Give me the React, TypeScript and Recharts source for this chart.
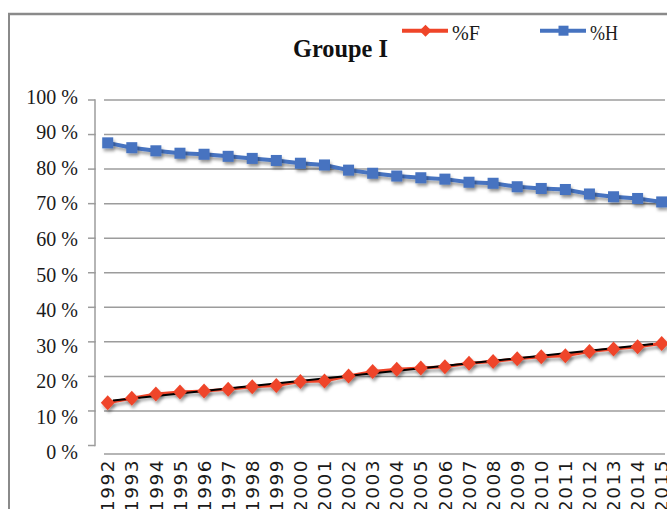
import React from 'react';
import { LineChart, Line, XAxis, YAxis, CartesianGrid, Legend, Customized } from 'recharts';

const years = [1992, 1993, 1994, 1995, 1996, 1997, 1998, 1999, 2000, 2001, 2002, 2003, 2004, 2005, 2006, 2007, 2008, 2009, 2010, 2011, 2012, 2013, 2014, 2015];
const pctF = [12.4, 13.7, 14.9, 15.5, 15.8, 16.3, 17.0, 17.4, 18.5, 18.7, 20.1, 21.4, 22.1, 22.4, 22.8, 23.8, 24.3, 25.1, 25.7, 26.0, 27.2, 27.9, 28.6, 29.5];
const pctH = [87.6, 86.2, 85.3, 84.6, 84.3, 83.7, 83.1, 82.5, 81.7, 81.2, 79.7, 78.8, 78.0, 77.5, 77.1, 76.2, 75.9, 74.9, 74.4, 74.1, 72.8, 72.0, 71.5, 70.5];
const trendYears = [1992.22, 2014.64];
const trendValues = [13.0, 29.4];
const yTicks = [0, 10, 20, 30, 40, 50, 60, 70, 80, 90, 100];
const gridValues = [10, 20, 30, 40, 50, 60, 70, 80, 90, 100];
const slotTicks = [0, 1, 2, 3, 4, 5, 6, 7, 8, 9, 10, 11, 12, 13, 14, 15, 16, 17, 18, 19, 20, 21, 22, 23, 24];

const data = years.map((y, i) => ({ year: y, F: pctF[i], H: pctH[i] }));
const trendData = trendYears.map((y, i) => ({ year: y, T: trendValues[i] }));

const RED = '#EF4529';
const BLUE = '#4673C0';
const GRID = '#9c9c9c';
const FRAME = '#8a8a8a';

const W = 667;
const H = 509;
const MARGIN = { top: 100, right: 2, bottom: 54, left: 44 };
const Y_MIN = -2.17;
const PLOT_H = H - MARGIN.top - MARGIN.bottom - 2;
const PX = PLOT_H / (100 - Y_MIN);

const YTick = (p: any) => {
  const { x, y, payload } = p;
  const v = Number(payload.value);
  const ly = y - 3 + (100 - v) * 0.1;
  return (
    <g>
      <line x1={x - 16} x2={x - 9} y1={y} y2={y} stroke={GRID} strokeWidth={1.5} />
      {v > 0 && <line x1={x - 9} x2={x - 9} y1={y - 0.75} y2={y + 10 * PX + 0.75} stroke={GRID} strokeWidth={1.5} />}
      <text x={x - 26} y={ly} dy="0.34em" textAnchor="end" fontFamily="'Liberation Serif', serif" fontSize={20} fill="#1a1a1a">
        {`${v} %`}
      </text>
    </g>
  );
};

const XTick = (p: any) => {
  const { x, y, payload } = p;
  const ty = y + 6;
  return (
    <text
      x={x}
      y={ty}
      dy="0.36em"
      textAnchor="end"
      transform={`rotate(-90, ${x}, ${ty})`}
      fontFamily="'DejaVu Sans', sans-serif"
      fontSize={18.5}
      letterSpacing={1.5}
      fill="#1a1a1a"
    >
      {payload.value}
    </text>
  );
};

const DiamondDot = (p: any) => {
  const { cx, cy, index } = p;
  if (cx == null || cy == null) return <g key={`dd${index}`} />;
  const r = 7.5;
  return (
    <path
      key={`dd${index}`}
      d={`M${cx},${cy - r}L${cx + r * 0.92},${cy}L${cx},${cy + r}L${cx - r * 0.92},${cy}Z`}
      fill={RED}
      filter="url(#sh)"
    />
  );
};

const SquareDot = (p: any) => {
  const { cx, cy, index } = p;
  if (cx == null || cy == null) return <g key={`sd${index}`} />;
  return <rect key={`sd${index}`} x={cx - 5.5} y={cy - 5.5} width={11} height={11} fill={BLUE} filter="url(#sh)" />;
};

const renderLegend = (props: any) => {
  const items = (props.payload || []).filter((e: any) => e.type !== 'none');
  return (
    <svg width={W} height={60} style={{ display: 'block', overflow: 'visible' }}>
      {items.map((e: any, i: number) => {
        const x0 = 402 + i * 138;
        const y0 = 30.7;
        const isF = e.dataKey === 'F';
        const mx = x0 + 23.5;
        return (
          <g key={`lg${i}`}>
            <line x1={x0} x2={x0 + 46} y1={y0} y2={y0} stroke={e.color} strokeWidth={4} />
            {isF ? (
              <path d={`M${mx},${y0 - 6}L${mx + 6},${y0}L${mx},${y0 + 6}L${mx - 6},${y0}Z`} fill={RED} />
            ) : (
              <rect x={mx - 5} y={y0 - 5} width={10} height={10} fill={BLUE} />
            )}
            <text x={x0 + 50} y={39.5} fontFamily="'Liberation Serif', serif" fontSize={20} fill="#1a1a1a" textLength={28} lengthAdjust="spacingAndGlyphs">
              {e.value}
            </text>
          </g>
        );
      })}
    </svg>
  );
};

const Title = () => (
  <g>
    <line x1={8} y1={14} x2={667} y2={14} stroke={FRAME} strokeWidth={2.5} />
    <line x1={9} y1={13} x2={9} y2={509} stroke={FRAME} strokeWidth={2} />
    <text x={293} y={57} fontFamily="'Liberation Serif', serif" fontWeight="bold" fontSize={25} fill="#111" textLength={95} lengthAdjust="spacingAndGlyphs">
      Groupe I
    </text>
  </g>
);

export default function App() {
  return (
    <div style={{ position: 'absolute', left: 0, top: 0, width: W, height: H, overflow: 'hidden', background: '#fff' }}>
      <LineChart width={W} height={H} data={data} margin={MARGIN}>
        <defs>
          <filter id="sh" x="-60%" y="-60%" width="220%" height="220%">
            <feDropShadow dx="1.5" dy="3" stdDeviation="1.6" floodColor="#000" floodOpacity="0.35" />
          </filter>
        </defs>
        <CartesianGrid xAxisId="d" vertical={false} horizontalValues={gridValues} stroke={GRID} strokeWidth={1.5} />
        <XAxis
          xAxisId="t"
          type="number"
          dataKey="year"
          domain={[0, 24]}
          allowDataOverflow
          ticks={slotTicks}
          interval={0}
          tick={false}
          tickSize={5}
          tickLine={{ stroke: GRID, strokeWidth: 1.5 }}
          axisLine={{ stroke: GRID, strokeWidth: 1.5 }}
          height={1}
        />
        <XAxis
          xAxisId="d"
          type="number"
          dataKey="year"
          domain={[1991.846, 2015.137]}
          ticks={years}
          interval={0}
          tick={<XTick />}
          tickLine={false}
          axisLine={false}
          tickSize={0}
          tickMargin={0}
          height={1}
        />
        <YAxis
          type="number"
          domain={[Y_MIN, 100]}
          ticks={yTicks}
          interval={0}
          width={60}
          axisLine={false}
          tickLine={false}
          tickSize={0}
          tickMargin={0}
          tick={<YTick />}
        />
        <Legend verticalAlign="middle" align="center" layout="horizontal" content={renderLegend} wrapperStyle={{ position: 'absolute', left: 0, top: 0, width: W, height: 60 }} />
        <Line xAxisId="d" name="%F" dataKey="F" stroke={RED} strokeWidth={3} dot={DiamondDot} activeDot={false} isAnimationActive={false} filter="url(#sh)" />
        <Line xAxisId="d" name="%H" dataKey="H" stroke={BLUE} strokeWidth={4} dot={SquareDot} activeDot={false} isAnimationActive={false} filter="url(#sh)" />
        <Line xAxisId="d" data={trendData} dataKey="T" stroke="#000" strokeWidth={2} dot={false} activeDot={false} legendType="none" isAnimationActive={false} />
        <Customized component={Title} />
      </LineChart>
    </div>
  );
}
